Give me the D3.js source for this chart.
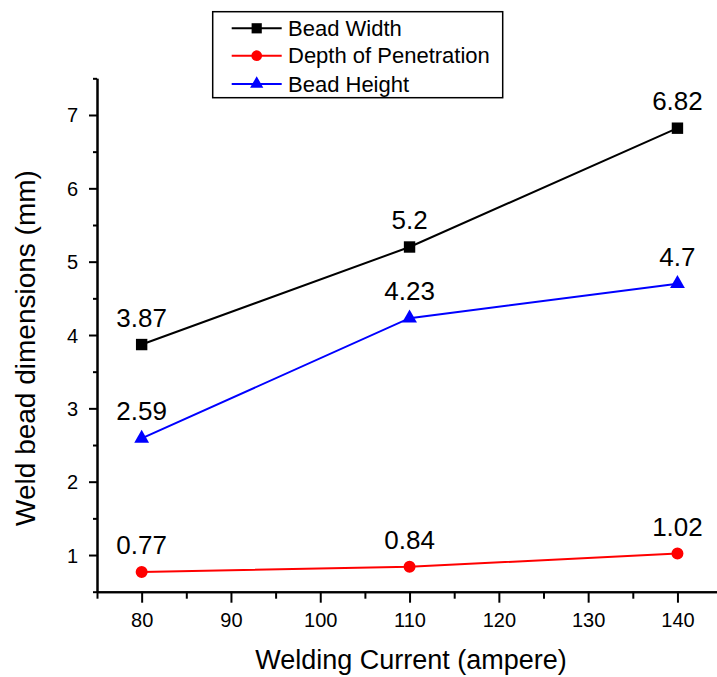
<!DOCTYPE html>
<html>
<head>
<meta charset="utf-8">
<script src="https://cdn.jsdelivr.net/npm/d3@7"></script>
<style>
  html, body { margin: 0; padding: 0; background: #fff; }
  svg { display: block; font-family: "Liberation Sans", Arial, sans-serif; }
</style>
</head>
<body>
<svg id="chart" width="717" height="677"></svg>
<script>
// ---- data ----
const currents = [80, 110, 140];
const beadWidth = [3.87, 5.2, 6.82];
const depthPenetration = [0.77, 0.84, 1.02];
const beadHeight = [2.59, 4.23, 4.7];
const seriesNames = ["Bead Width", "Depth of Penetration", "Bead Height"];
const xMajorTicks = [80, 90, 100, 110, 120, 130, 140];
const xMinorTicks = [75, 85, 95, 105, 115, 125, 135, 145];
const yMajorTicks = [1, 2, 3, 4, 5, 6, 7];
const yMinorTicks = [0.5, 1.5, 2.5, 3.5, 4.5, 5.5, 6.5, 7.5];
const xTitle = "Welding Current (ampere)";
const yTitle = "Weld bead dimensions (mm)";

const series = [
  { name: seriesNames[0], values: beadWidth, color: "#000000", symbol: d3.symbolSquare, size: 130 },
  { name: seriesNames[1], values: depthPenetration, color: "#ff0000", symbol: d3.symbolCircle, size: 113 },
  { name: seriesNames[2], values: beadHeight, color: "#0000ff", symbol: d3.symbolTriangle, size: 95 }
];

const svg = d3.select("#chart");
const x0 = 97, yAxisPos = 591.7;
const x = d3.scaleLinear().domain([75, 145]).range([x0, x0 + 70 * 8.93]);
const y = d3.scaleLinear().domain([0.5, 7.5]).range([yAxisPos, yAxisPos - 7 * 73.34]);

// ---- axes ----
const gx = svg.append("g").attr("transform", `translate(0,${yAxisPos})`);
gx.call(d3.axisBottom(x).tickValues(xMajorTicks).tickSize(11).tickSizeOuter(0).tickFormat(d3.format("d")));
gx.selectAll("text").attr("y", 35).attr("dy", 0).style("font-size", "20px").attr("fill", "#000");
const gxm = svg.append("g").attr("transform", `translate(0,${yAxisPos})`);
gxm.call(d3.axisBottom(x).tickValues(xMinorTicks).tickSize(7).tickSizeOuter(0).tickFormat(""));

const gy = svg.append("g").attr("transform", `translate(${x0},0)`);
gy.call(d3.axisLeft(y).tickValues(yMajorTicks).tickSize(8).tickSizeOuter(0).tickFormat(d3.format("d")));
gy.selectAll("text").attr("x", -19).attr("dy", "0.35em").style("font-size", "20px").attr("fill", "#000");
const gym = svg.append("g").attr("transform", `translate(${x0},0)`);
gym.call(d3.axisLeft(y).tickValues(yMinorTicks).tickSize(4).tickSizeOuter(0).tickFormat(""));

svg.selectAll(".domain").attr("stroke", "#000").attr("stroke-width", 2);
svg.selectAll(".tick line").attr("stroke", "#000").attr("stroke-width", 2);

// ---- titles ----
svg.append("text")
  .attr("x", 411).attr("y", 669)
  .attr("text-anchor", "middle")
  .style("font-size", "27px")
  .text(xTitle);
svg.append("text")
  .attr("transform", `translate(35,348) rotate(-90)`)
  .attr("text-anchor", "middle")
  .style("font-size", "28px")
  .text(yTitle);

// ---- series ----
const line = d3.line().x((d, i) => x(currents[i])).y(d => y(d));
series.forEach(s => {
  svg.append("path")
    .datum(s.values)
    .attr("d", line)
    .attr("fill", "none")
    .attr("stroke", s.color)
    .attr("stroke-width", 2);
  svg.selectAll(null).data(s.values).enter().append("path")
    .attr("d", d3.symbol().type(s.symbol).size(s.size))
    .attr("transform", (d, i) => `translate(${x(currents[i])},${y(d)})`)
    .attr("fill", s.color);
  svg.selectAll(null).data(s.values).enter().append("text")
    .attr("x", (d, i) => x(currents[i]))
    .attr("y", d => y(d) - 18)
    .attr("text-anchor", "middle")
    .style("font-size", "26px")
    .attr("fill", "#000")
    .text(d => d);
});

// ---- legend ----
const lg = svg.append("g");
lg.append("rect")
  .attr("x", 212.7).attr("y", 11.7)
  .attr("width", 290).attr("height", 86)
  .attr("fill", "#fff").attr("stroke", "#000").attr("stroke-width", 1.5);
const rowY = [28.3, 55.7, 84];
series.forEach((s, i) => {
  const g = lg.append("g").attr("transform", `translate(0,${rowY[i]})`);
  g.append("line").attr("x1", 231.7).attr("x2", 281.7).attr("y1", 0).attr("y2", 0)
    .attr("stroke", s.color).attr("stroke-width", 2);
  g.append("path").attr("d", d3.symbol().type(s.symbol).size(s.size * 0.8))
    .attr("transform", "translate(256.7,0)").attr("fill", s.color);
  g.append("text").attr("x", 288).attr("y", 0).attr("dy", "0.35em")
    .style("font-size", "22px").text(s.name);
});
</script>
</body>
</html>
